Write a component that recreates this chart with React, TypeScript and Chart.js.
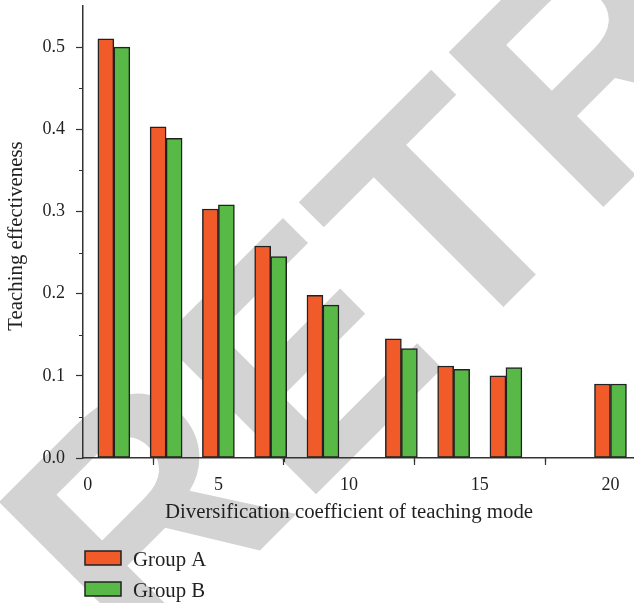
import React, { useEffect, useRef } from 'react';
import { Chart, registerables } from 'chart.js';

Chart.register(...registerables);

// ---- data ----
const xPositions = [1, 3, 5, 7, 9, 12, 14, 16, 20];
const groupA = [0.51, 0.403, 0.303, 0.258, 0.198, 0.145, 0.112, 0.1, 0.09];
const groupB = [0.5, 0.389, 0.308, 0.245, 0.186, 0.133, 0.108, 0.11, 0.09];
const seriesNames = ['Group A', 'Group B'];
const xTicks = [0, 5, 10, 15, 20];
const xMinorTicks = [2.5, 7.5, 12.5, 17.5];
const yTicks = [0, 0.1, 0.2, 0.3, 0.4, 0.5];
const yMinorTicks = [0.05, 0.15, 0.25, 0.35, 0.45];
const xTitle = 'Diversification coefficient of teaching mode';
const yTitle = 'Teaching effectiveness';
const watermarkText = 'RETRACTED';

// ---- styles ----
const ORANGE = '#F15A29';
const GREEN = '#58B947';
const EDGE = '#222222';
const AXIS = '#333333';
const TEXT = '#231f20';
const SERIF = '"Liberation Serif", "Times New Roman", serif';

const decorPlugin = {
  id: 'decor',
  beforeDraw(chart: any) {
    const ctx = chart.ctx;
    ctx.save();
    ctx.fillStyle = '#d3d3d3';
    ctx.font = 'bold 318px "Liberation Sans", Arial, sans-serif';
    ctx.textAlign = 'left';
    ctx.textBaseline = 'alphabetic';
    ctx.translate(138.6, 671.8);
    ctx.rotate(-Math.PI / 4);
    ctx.fillText(watermarkText, 0, 0);
    ctx.restore();
  },
  afterDraw(chart: any) {
    const ctx = chart.ctx;
    const xs = chart.scales.x;
    const ys = chart.scales.y;
    const area = chart.chartArea;
    ctx.save();
    // minor ticks
    ctx.strokeStyle = AXIS;
    ctx.lineWidth = 1.2;
    ctx.beginPath();
    yMinorTicks.forEach((v) => {
      const py = Math.round(ys.getPixelForValue(v)) + 0.5;
      ctx.moveTo(area.left - 4, py);
      ctx.lineTo(area.left, py);
    });
    xMinorTicks.forEach((v) => {
      const px = Math.round(xs.getPixelForValue(v)) + 0.5;
      ctx.moveTo(px, area.bottom);
      ctx.lineTo(px, area.bottom + 4);
    });
    ctx.stroke();

    // axis titles
    ctx.fillStyle = TEXT;
    ctx.font = `20.8px ${SERIF}`;
    ctx.textAlign = 'center';
    ctx.textBaseline = 'alphabetic';
    ctx.fillText(xTitle, 349, 518);
    ctx.save();
    ctx.translate(22, 236);
    ctx.rotate(-Math.PI / 2);
    ctx.fillText(yTitle, 0, 0);
    ctx.restore();

    // legend
    const colors = [ORANGE, GREEN];
    const boxTops = [551, 582];
    const baselines = [566, 597];
    seriesNames.forEach((name, i) => {
      ctx.fillStyle = colors[i];
      ctx.fillRect(85, boxTops[i], 36, 14);
      ctx.strokeStyle = EDGE;
      ctx.lineWidth = 1.5;
      ctx.strokeRect(85, boxTops[i], 36, 14);
      ctx.fillStyle = TEXT;
      ctx.textAlign = 'left';
      ctx.fillText(name, 133, baselines[i]);
    });
    ctx.restore();
  },
};

export default function App() {
  const canvasRef = useRef<HTMLCanvasElement | null>(null);

  useEffect(() => {
    if (!canvasRef.current) return;
    const chart = new Chart(canvasRef.current, {
      type: 'bar',
      data: {
        datasets: [
          {
            label: seriesNames[0],
            data: xPositions.map((x, i) => ({ x, y: groupA[i] })),
            backgroundColor: ORANGE,
            borderColor: EDGE,
            borderWidth: 1.5,
            borderSkipped: false,
            barThickness: 16,
          },
          {
            label: seriesNames[1],
            data: xPositions.map((x, i) => ({ x, y: groupB[i] })),
            backgroundColor: GREEN,
            borderColor: EDGE,
            borderWidth: 1.5,
            borderSkipped: false,
            barThickness: 16,
          },
        ] as any,
      },
      plugins: [decorPlugin],
      options: {
        animation: false,
        responsive: true,
        maintainAspectRatio: false,
        devicePixelRatio: 1,
        layout: { padding: { top: 6, left: 0, right: 0, bottom: 0 } },
        plugins: {
          legend: { display: false },
          tooltip: { enabled: false },
        },
        scales: {
          x: {
            type: 'linear',
            min: -0.18,
            max: 20.9,
            offset: false,
            afterBuildTicks: (s: any) => {
              s.ticks = xTicks.map((v) => ({ value: v }));
            },
            afterFit: (s: any) => {
              s.height = 145;
              s.paddingLeft = 0;
              s.paddingRight = 0;
            },
            grid: {
              display: true,
              drawOnChartArea: false,
              drawTicks: true,
              tickLength: 7,
              tickColor: AXIS,
              tickWidth: 1.2,
            },
            border: { display: true, color: AXIS, width: 1.5 },
            ticks: {
              color: TEXT,
              font: { family: SERIF, size: 18 },
              padding: 9,
              maxRotation: 0,
              autoSkip: false,
            },
          },
          y: {
            type: 'linear',
            min: 0,
            max: 0.55,
            afterBuildTicks: (s: any) => {
              s.ticks = yTicks.map((v) => ({ value: v }));
            },
            afterFit: (s: any) => {
              s.width = 83;
              s.paddingTop = 0;
              s.paddingBottom = 0;
            },
            grid: {
              display: true,
              drawOnChartArea: false,
              drawTicks: true,
              tickLength: 7,
              tickColor: AXIS,
              tickWidth: 1.2,
            },
            border: { display: true, color: AXIS, width: 1.5 },
            ticks: {
              color: TEXT,
              font: { family: SERIF, size: 18 },
              padding: 11,
              autoSkip: false,
              callback: (v: any) => Number(v).toFixed(1),
            },
          },
        },
      } as any,
    });
    return () => chart.destroy();
  }, []);

  return (
    <div style={{ position: 'absolute', left: 0, top: 0, width: 634, height: 603, background: '#ffffff' }}>
      <canvas ref={canvasRef} />
    </div>
  );
}
